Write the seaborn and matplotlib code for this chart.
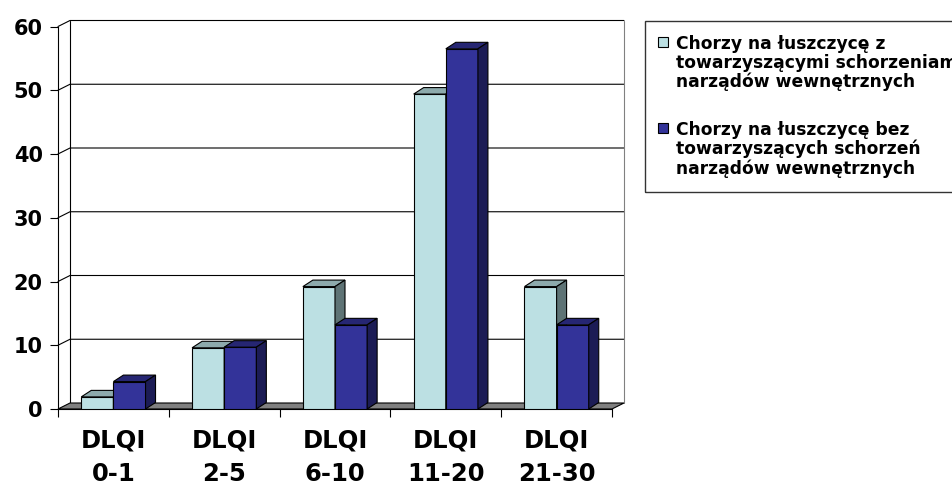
import matplotlib
matplotlib.use("Agg")
import matplotlib.pyplot as plt
import pandas as pd
import seaborn as sns
from matplotlib.patches import Polygon, Rectangle
from matplotlib.lines import Line2D

# --- data -----------------------------------------------------------------
categories = ["DLQI\n0-1", "DLQI\n2-5", "DLQI\n6-10", "DLQI\n11-20", "DLQI\n21-30"]
series_names = [
    "Chorzy na łuszczycę z\ntowarzyszącymi schorzeniami\nnarządów wewnętrznych",
    "Chorzy na łuszczycę bez\ntowarzyszących schorzeń\nnarządów wewnętrznych",
]
with_comorbidities = [1.9, 9.6, 19.2, 49.4, 19.2]
without_comorbidities = [4.3, 9.7, 13.2, 56.5, 13.2]
y_ticks = [0, 10, 20, 30, 40, 50, 60]

df = pd.DataFrame({
    "kategoria": categories * 2,
    "grupa": [series_names[0]] * len(categories) + [series_names[1]] * len(categories),
    "procent": with_comorbidities + without_comorbidities,
})

# face colours: front / top / side for each series
front = ["#BCE0E3", "#333399"]
top = ["#8DAAAC", "#262673"]
side = ["#5E7375", "#1C1C55"]

sns.set_style("white")
plt.rcParams["font.family"] = ["DejaVu Sans", "Liberation Sans"]
plt.rcParams["text.color"] = "black"
plt.rcParams["xtick.color"] = "black"
plt.rcParams["ytick.color"] = "black"
plt.rcParams["xtick.labelcolor"] = "black"
plt.rcParams["ytick.labelcolor"] = "black"

W, H = 952, 487
fig = plt.figure(figsize=(W / 100, H / 100), dpi=100)
fig.patch.set_facecolor("white")
ax = fig.add_axes([58 / W, 78 / H, 554 / W, 382.5 / H])
ax.set_facecolor("none")

sns.barplot(data=df, x="kategoria", y="procent", hue="grupa",
            palette=front, saturation=1, width=0.58,
            edgecolor="black", linewidth=0.8, legend=False, ax=ax)

ax.set_xlim(-0.5, len(categories) - 0.5)
ax.set_ylim(0, 60)

# pixel -> data conversions for the pseudo-3D depth
px_x = 1.0 / (554 / len(categories))
px_y = 60.0 / 382.5
wall_dx, wall_dy = 12 * px_x, 6 * px_y
bar_dx, bar_dy = 10 * px_x, 6.5 * px_y
x_left, x_right = -0.5, len(categories) - 0.5

# back wall gridlines with the diagonal on the side wall
for v in y_ticks[1:]:
    ax.plot([x_left, x_left + wall_dx, x_right + wall_dx],
            [v, v + wall_dy, v + wall_dy],
            color="black", lw=0.8, zorder=0.5, clip_on=False)
ax.plot([x_left + wall_dx] * 2, [wall_dy, 60 + wall_dy],
        color="black", lw=0.8, zorder=0.5, clip_on=False)
ax.plot([x_right + wall_dx] * 2, [wall_dy, 60 + wall_dy],
        color="#808080", lw=0.8, zorder=0.5, clip_on=False)

# floor
ax.add_patch(Polygon([(x_left, 0), (x_right, 0), (x_right + wall_dx, wall_dy),
                      (x_left + wall_dx, wall_dy)],
                     closed=True, facecolor="#808080", edgecolor="black",
                     lw=0.8, zorder=1, clip_on=False))

# top and side faces for every bar
for s, container in enumerate(ax.containers):
    z = 3 + s
    for bar in container:
        bar.set_zorder(z)
        x0, w, h = bar.get_x(), bar.get_width(), bar.get_height()
        ax.add_patch(Polygon([(x0, h), (x0 + w, h), (x0 + w + bar_dx, h + bar_dy),
                              (x0 + bar_dx, h + bar_dy)], closed=True,
                             facecolor=top[s], edgecolor="black", lw=0.8,
                             zorder=z, clip_on=False))
        ax.add_patch(Polygon([(x0 + w, 0), (x0 + w + bar_dx, bar_dy),
                              (x0 + w + bar_dx, h + bar_dy), (x0 + w, h)], closed=True,
                             facecolor=side[s], edgecolor="black", lw=0.8,
                             zorder=z, clip_on=False))

# axes styling
for name in ["top", "right"]:
    ax.spines[name].set_visible(False)
for name in ["left", "bottom"]:
    ax.spines[name].set_color("black")
    ax.spines[name].set_linewidth(0.8)
    ax.spines[name].set_zorder(2)

ax.set_yticks(y_ticks)
ax.set_yticklabels([str(v) for v in y_ticks], fontsize=15, fontweight="bold")
ax.tick_params(axis="y", left=True, length=6, width=0.8, color="black", pad=5,
               direction="out")

ax.set_xticks(range(len(categories)))
ax.set_xticklabels(categories, fontsize=17.5, fontweight="bold", linespacing=1.5)
ax.set_xticks([i - 0.5 for i in range(len(categories) + 1)], minor=True)
ax.tick_params(axis="x", which="major", bottom=True, length=0, pad=14)
ax.tick_params(axis="x", which="minor", bottom=True, length=6, width=0.8,
               color="black", direction="out")
ax.set_xlabel("")
ax.set_ylabel("")
ax.grid(False)

# legend
handles = [Line2D([], [], linestyle="none", marker="s", markersize=7.6,
                  markerfacecolor=front[i], markeredgecolor="black",
                  markeredgewidth=0.8) for i in range(2)]
leg = fig.legend(handles, series_names, loc="upper left",
                 bbox_to_anchor=(657 / W, 1 - 35 / H), frameon=False,
                 prop={"weight": "bold", "size": 12.3}, handlelength=0.65,
                 handleheight=1.08, handletextpad=0.45, labelspacing=1.8,
                 borderpad=0, borderaxespad=0)
for txt in leg.get_texts():
    txt.set_linespacing(1.04)
    txt.set_color("black")
for column in leg._legend_handle_box.get_children():
    for row in column.get_children():
        row.align = "top"
fig.add_artist(Rectangle((645 / W, 1 - 192 / H), 330 / W, 171 / H,
                         transform=fig.transFigure, fill=False,
                         edgecolor="#333333", lw=1))

fig.savefig("out.png", dpi=100, facecolor="white")
